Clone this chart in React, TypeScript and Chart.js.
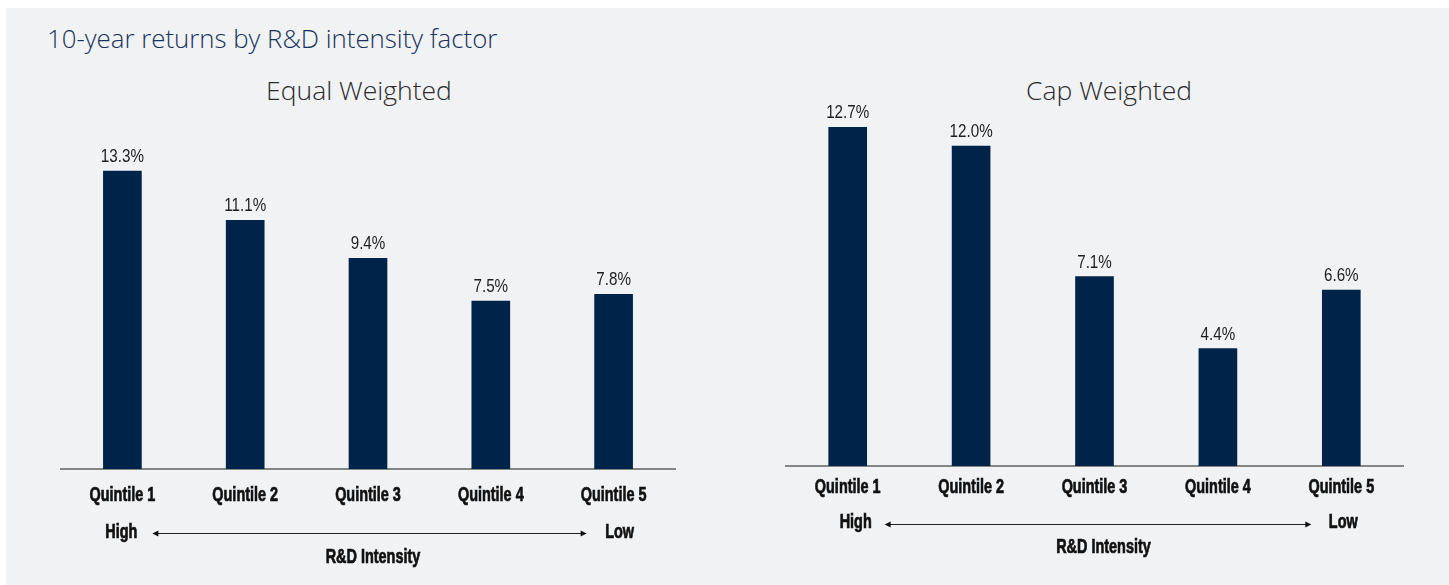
import React, { useEffect, useRef } from "react";
import { Chart, registerables } from "chart.js";

Chart.register(...registerables);

const mainTitle = "10-year returns by R&D intensity factor";
const categories = ["Quintile 1", "Quintile 2", "Quintile 3", "Quintile 4", "Quintile 5"];
const equalTitle = "Equal Weighted";
const equalValues = [13.3, 11.1, 9.4, 7.5, 7.8];
const capTitle = "Cap Weighted";
const capValues = [12.7, 12.0, 7.1, 4.4, 6.6];
const highLabel = "High";
const lowLabel = "Low";
const axisCaption = "R&D Intensity";

const BAR_COLOR = "#00234a";
const SANS = '"Liberation Sans", Arial, sans-serif';

type Layout = {
  left: number;
  width: number;
  padLeft: number;
  padRight: number;
  padTop: number;
  axisHeight: number;
  yMax: number;
  catDy: number;
  highDy: number;
  arrowDy: number;
  captionDy: number;
  captionDx: number;
  highDx: number;
  lowDx: number;
  arrowStartDx: number;
  arrowEndDx: number;
};

function condensedText(ctx: CanvasRenderingContext2D, text: string, x: number, y: number, sx: number, bold = false) {
  ctx.save();
  ctx.translate(x, y);
  ctx.scale(sx, 1);
  ctx.fillText(text, 0, 0);
  if (bold) {
    ctx.lineWidth = 0.7;
    ctx.strokeStyle = ctx.fillStyle as string;
    ctx.strokeText(text, 0, 0);
  }
  ctx.restore();
}

const valueLabels = {
  id: "valueLabels",
  afterDatasetsDraw(chart: any) {
    const ctx = chart.ctx;
    const meta = chart.getDatasetMeta(0);
    const data = chart.data.datasets[0].data as number[];
    ctx.save();
    ctx.font = `400 19px ${SANS}`;
    ctx.fillStyle = "#1e1e1e";
    ctx.textAlign = "center";
    ctx.textBaseline = "alphabetic";
    meta.data.forEach((bar: any, i: number) => {
      condensedText(ctx, data[i].toFixed(1) + "%", bar.x, bar.y - 9, 0.8);
    });
    ctx.restore();
  },
};

const intensityArrow = {
  id: "intensityArrow",
  afterDraw(chart: any, _args: any, opts: any) {
    const ctx = chart.ctx;
    const xs = chart.scales.x;
    const labels = chart.data.labels as string[];
    const n = labels.length;
    const x0 = xs.getPixelForValue(0);
    const x1 = xs.getPixelForValue(n - 1);
    const base = chart.chartArea.bottom;
    const sx = 0.74;
    ctx.save();
    ctx.font = `700 19.5px ${SANS}`;
    ctx.fillStyle = "#111111";
    ctx.textAlign = "center";
    ctx.textBaseline = "middle";
    labels.forEach((lab, i) => {
      condensedText(ctx, lab, xs.getPixelForValue(i), base + opts.catDy, sx, true);
    });
    const yh = base + opts.highDy;
    condensedText(ctx, highLabel, x0 + opts.highDx, yh, sx, true);
    condensedText(ctx, lowLabel, x1 + opts.lowDx, yh, sx, true);
    const ya = Math.round(base + opts.arrowDy) + 0.5;
    const ax0 = x0 + opts.arrowStartDx;
    const ax1 = x1 + opts.arrowEndDx;
    ctx.strokeStyle = "#222";
    ctx.lineWidth = 1;
    ctx.beginPath();
    ctx.moveTo(ax0 + 2, ya);
    ctx.lineTo(ax1 - 2, ya);
    ctx.stroke();
    ctx.beginPath();
    ctx.moveTo(ax0, ya);
    ctx.lineTo(ax0 + 6, ya - 3);
    ctx.lineTo(ax0 + 6, ya + 3);
    ctx.closePath();
    ctx.fill();
    ctx.beginPath();
    ctx.moveTo(ax1, ya);
    ctx.lineTo(ax1 - 6, ya - 3);
    ctx.lineTo(ax1 - 6, ya + 3);
    ctx.closePath();
    ctx.fill();
    condensedText(ctx, axisCaption, (x0 + x1) / 2 + opts.captionDx, base + opts.captionDy, sx, true);
    ctx.restore();
  },
};

function BarPanel({ values, layout }: { values: number[]; layout: Layout }) {
  const ref = useRef<HTMLCanvasElement | null>(null);
  useEffect(() => {
    if (!ref.current) return;
    const chart = new Chart(ref.current, {
      type: "bar",
      data: {
        labels: categories,
        datasets: [
          {
            data: values,
            backgroundColor: BAR_COLOR,
            barThickness: 38,
          },
        ],
      },
      options: {
        animation: false,
        responsive: false,
        maintainAspectRatio: false,
        layout: {
          padding: { left: layout.padLeft, right: layout.padRight, top: layout.padTop, bottom: 0 },
        },
        plugins: {
          legend: { display: false },
          tooltip: { enabled: false },
          title: { display: false },
          intensityArrow: layout as any,
        } as any,
        scales: {
          x: {
            grid: { display: false, drawTicks: false },
            border: { display: true, color: "#858585", width: 2 },
            ticks: { display: false },
            afterFit: (scale: any) => {
              scale.height = layout.axisHeight;
            },
          },
          y: { display: false, min: 0, max: layout.yMax },
        },
      },
      plugins: [valueLabels, intensityArrow],
    });
    return () => chart.destroy();
  }, []);
  return (
    <div style={{ position: "absolute", left: layout.left, top: 60, width: layout.width, height: 525 }}>
      <canvas ref={ref} width={layout.width} height={525} style={{ display: "block" }} />
    </div>
  );
}

const leftLayout: Layout = {
  left: 0,
  width: 720,
  padLeft: 61,
  padRight: 45,
  padTop: 73,
  axisHeight: 116,
  yMax: 15,
  catDy: 26.5,
  highDy: 63.5,
  arrowDy: 64,
  captionDy: 89,
  captionDx: 5,
  highDx: -1,
  lowDx: 6,
  arrowStartDx: 30,
  arrowEndDx: -27,
};

const rightLayout: Layout = {
  left: 720,
  width: 729,
  padLeft: 66,
  padRight: 46,
  padTop: 46,
  axisHeight: 119,
  yMax: 13.5,
  catDy: 22,
  highDy: 57,
  arrowDy: 58,
  captionDy: 81.5,
  captionDx: 9,
  highDx: 8,
  lowDx: 2,
  arrowStartDx: 37,
  arrowEndDx: -30,
};

const titleFont = '"Open Sans", "Noto Sans", sans-serif';

export default function App() {
  return (
    <div style={{ position: "absolute", left: 0, top: 0, width: 1449, height: 585, overflow: "hidden", background: "#ffffff" }}>
      <div style={{ position: "absolute", left: 6, top: 8, width: 1443, height: 577, background: "#f1f2f4" }} />
      <div
        style={{
          position: "absolute",
          left: 47,
          top: 21,
          fontFamily: titleFont,
          fontWeight: 300,
          fontSize: 25.8,
          color: "#17325c",
          whiteSpace: "nowrap",
          lineHeight: "34px",
        }}
      >
        {mainTitle}
      </div>
      <div
        style={{
          position: "absolute",
          left: 0,
          width: 718,
          top: 72,
          textAlign: "center",
          fontFamily: titleFont,
          fontWeight: 300,
          fontSize: 26.5,
          color: "#2b2b2b",
          lineHeight: "36px",
          whiteSpace: "nowrap",
        }}
      >
        {equalTitle}
      </div>
      <div
        style={{
          position: "absolute",
          left: 1109 - 200,
          width: 400,
          top: 72,
          textAlign: "center",
          fontFamily: titleFont,
          fontWeight: 300,
          fontSize: 26.5,
          color: "#2b2b2b",
          lineHeight: "36px",
          whiteSpace: "nowrap",
        }}
      >
        {capTitle}
      </div>
      <BarPanel values={equalValues} layout={leftLayout} />
      <BarPanel values={capValues} layout={rightLayout} />
    </div>
  );
}
